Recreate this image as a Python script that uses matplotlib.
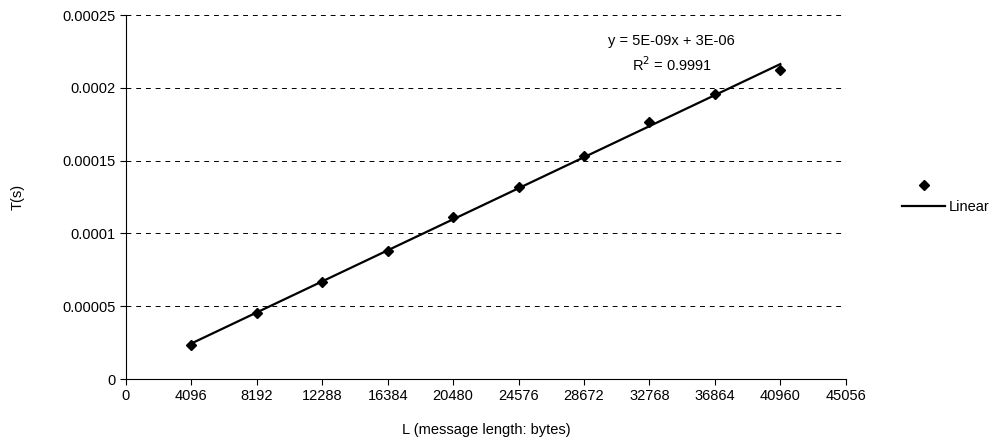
import matplotlib
matplotlib.use("Agg")
import matplotlib.pyplot as plt
import numpy as np

plt.rcParams['font.family'] = ['Liberation Sans', 'DejaVu Sans']

# message length (bytes) and measured time (s)
msg_len = [4096, 8192, 12288, 16384, 20480, 24576, 28672, 32768, 36864, 40960]
t_sec = [2.34e-5, 4.53e-5, 6.66e-5, 8.79e-5, 1.11e-4, 1.32e-4, 1.53e-4, 1.765e-4, 1.96e-4, 2.12e-4]

x_ticks = [0, 4096, 8192, 12288, 16384, 20480, 24576, 28672, 32768, 36864, 40960, 45056]
y_ticks = [0, 0.00005, 0.0001, 0.00015, 0.0002, 0.00025]
y_tick_labels = ['0', '0.00005', '0.0001', '0.00015', '0.0002', '0.00025']

FS = 10.5

fig = plt.figure(figsize=(9.95, 4.42), dpi=100)
ax = fig.add_axes([0.1266, 0.1425, 0.7234, 0.8235])

x = np.array(msg_len, dtype=float)
y = np.array(t_sec)
slope, icpt = np.polyfit(x, y, 1)
x_fit = np.array([x[0], x[-1]])

pts, = ax.plot(x, y, linestyle='none', marker='D', markersize=5, color='black')
fit, = ax.plot(x_fit, slope * x_fit + icpt, color='black', linewidth=1.6)

ax.set_xlim(0, 45056)
ax.set_ylim(0, 0.00025)
ax.set_xticks(x_ticks)
ax.set_yticks(y_ticks)
ax.set_yticklabels(y_tick_labels)
ax.tick_params(labelsize=FS, direction='out', length=4, width=0.8)

for yv in y_ticks[1:]:
    ax.axhline(yv, color='black', linestyle=(0, (5, 5)), linewidth=0.7, zorder=0)

for side in ['top', 'right']:
    ax.spines[side].set_visible(False)

ax.set_xlabel('L (message length: bytes)', fontsize=FS, va='center')
ax.xaxis.set_label_coords(0.5, -0.14)
ax.set_ylabel('T(s)', fontsize=FS, va='center')
ax.yaxis.set_label_coords(-0.151, 0.5)

ax.text(34170, 0.000232, 'y = 5E-09x + 3E-06', fontsize=FS, ha='center', va='center')
ax.text(34170, 0.000216, r'R$^2$ = 0.9991', fontsize=FS, ha='center', va='center')

fig.legend([pts, fit], ['', 'Linear'], loc='center left', bbox_to_anchor=(0.893, 0.555),
           frameon=False, fontsize=FS, handlelength=3, handletextpad=0.2, labelspacing=0.5)

fig.savefig('out.png', dpi=100)
